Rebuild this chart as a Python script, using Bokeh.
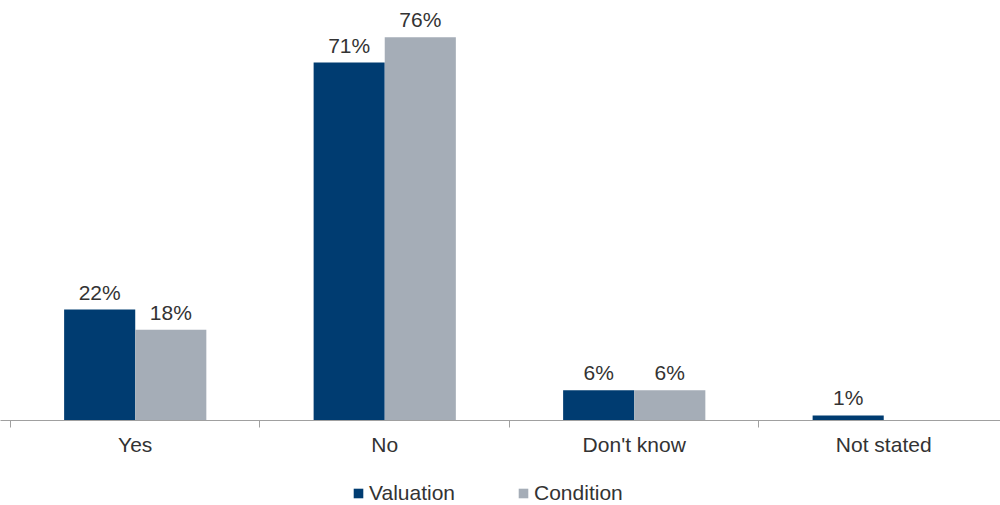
from bokeh.plotting import figure
from bokeh.layouts import column
from bokeh.models import (ColumnDataSource, Range1d, FixedTicker, Legend, LegendItem)
from bokeh.embed import file_html
from bokeh.resources import INLINE
from bokeh.core.properties import value

# Survey responses (% of respondents)
categories = ["Yes", "No", "Don't know", "Not stated"]
valuation = [22, 71, 6, 1]
condition = [18, 76, 6, 0]
series_names = ["Valuation", "Condition"]

NAVY = "#003c71"
GREY = "#a5adb7"
TEXT = "#333333"
FONT = "Liberation Sans"
FS = "21px"

xs = list(range(len(categories)))
bar_w = 0.285
off = bar_w / 2

val_src = ColumnDataSource(dict(
    x=[i - off for i in xs], top=valuation,
    label=[f"{v}%" for v in valuation]))
con_x = [i + off for i, v in zip(xs, condition) if v > 0]
con_v = [v for v in condition if v > 0]
con_src = ColumnDataSource(dict(
    x=con_x, top=con_v, label=[f"{v}%" for v in con_v]))

p = figure(width=1000, height=470, output_backend="svg", toolbar_location=None,
           x_range=Range1d(-0.540, 3.468), y_range=Range1d(0, 83.3),
           min_border_left=0, min_border_right=0, min_border_top=0,
           min_border_bottom=50, outline_line_color=None)

p.vbar(x="x", top="top", width=bar_w, source=val_src,
       fill_color=NAVY, line_color=None)
p.vbar(x="x", top="top", width=bar_w, source=con_src,
       fill_color=GREY, line_color=None)

for src in (val_src, con_src):
    p.text(x="x", y="top", text="label", source=src, text_align="center",
           text_baseline="bottom", y_offset=-6, text_color=TEXT,
           text_font=value(FONT), text_font_size=FS)

p.xgrid.visible = False
p.ygrid.visible = False
p.yaxis.visible = False

ax = p.xaxis[0]
ax.ticker = FixedTicker(ticks=xs, minor_ticks=[i - 0.5 for i in xs] + [len(xs) - 0.5])
ax.major_label_overrides = {i: c for i, c in zip(xs, categories)}
ax.major_tick_out = 0
ax.major_tick_in = 0
ax.minor_tick_out = 7
ax.minor_tick_in = 0
ax.minor_tick_line_color = "#a0a0a0"
ax.axis_line_color = "#a0a0a0"
ax.major_label_standoff = 5
ax.major_label_text_font = FONT
ax.major_label_text_font_size = FS
ax.major_label_text_color = TEXT

# Legend strip underneath the chart; its key renderers have zero height
leg = figure(width=1000, height=35, output_backend="svg", toolbar_location=None,
             x_range=Range1d(0, 1), y_range=Range1d(0, 1),
             min_border_left=0, min_border_right=0, min_border_top=0,
             min_border_bottom=0, outline_line_color=None)
leg.xaxis.visible = False
leg.yaxis.visible = False
leg.xgrid.visible = False
leg.ygrid.visible = False
k_val = leg.vbar(x=[0.5], top=[0], bottom=[0], width=0,
                 fill_color=NAVY, line_color=None)
k_con = leg.vbar(x=[0.5], top=[0], bottom=[0], width=0,
                 fill_color=GREY, line_color=None)
legend = Legend(items=[LegendItem(label=series_names[0], renderers=[k_val]),
                       LegendItem(label=series_names[1], renderers=[k_con])],
                orientation="horizontal", location=(352, 0),
                label_text_font=FONT, label_text_font_size=FS,
                label_text_color=TEXT, glyph_width=12, glyph_height=12,
                label_standoff=5, spacing=62, border_line_color=None,
                background_fill_alpha=0, padding=0, margin=0)
leg.add_layout(legend, "center")

layout = column(p, leg, spacing=0)
open("out.html", "w").write(file_html(layout, INLINE))
